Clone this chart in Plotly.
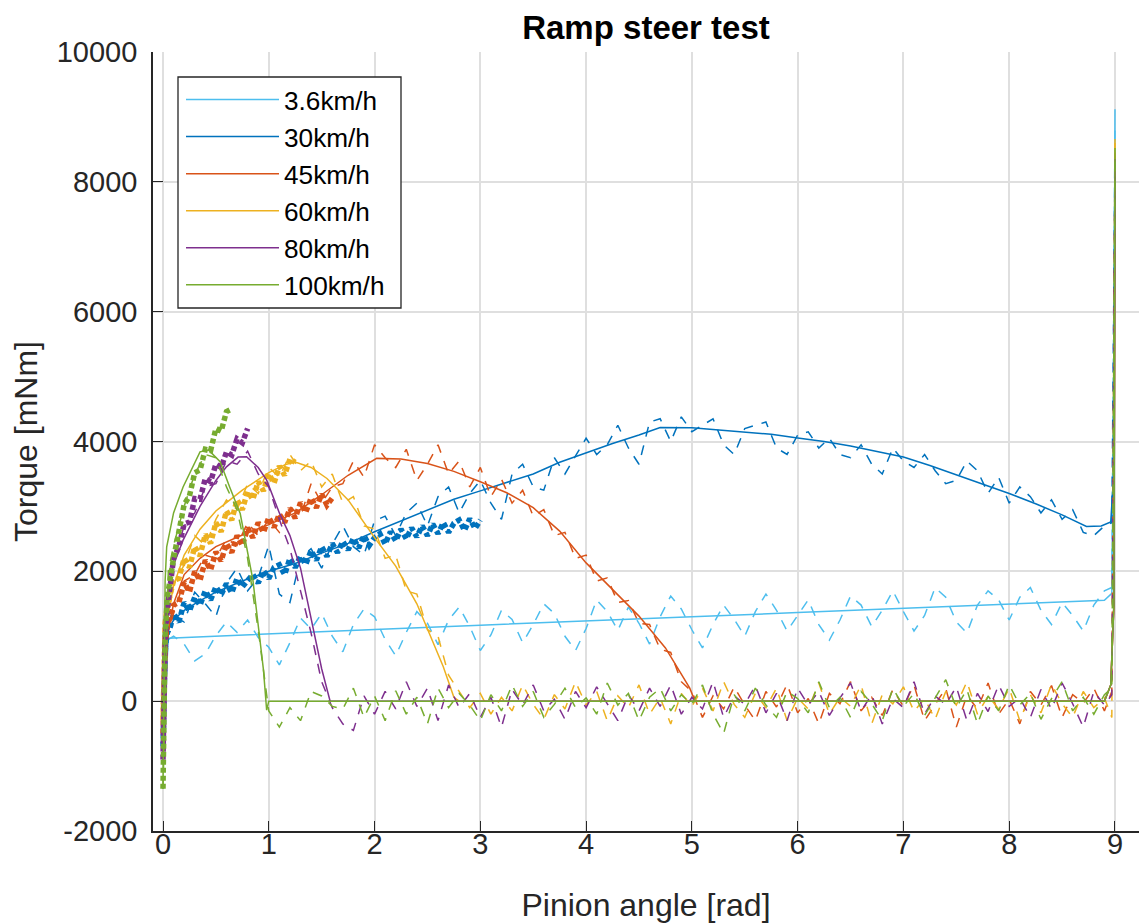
import plotly.graph_objects as go

# ---------------------------------------------------------------- labels
SPEEDS = ["3.6km/h", "30km/h", "45km/h", "60km/h", "80km/h", "100km/h"]
COLORS = ["#4DBEEE", "#0072BD", "#D95319", "#EDB120", "#7E2F8E", "#77AC30"]

X_TICKS = [0, 1, 2, 3, 4, 5, 6, 7, 8, 9]
X_TICK_TEXT = ["0", "1", "2", "3", "4", "5", "6", "7", "8", "9"]
Y_TICKS = [-2000, 0, 2000, 4000, 6000, 8000, 10000]
Y_TICK_TEXT = ["-2000", "0", "2000", "4000", "6000", "8000", "10000"]

# ---------------------------------------------------------------- model (solid)
MODEL_36_X = [0.0, 0.02, 0.05, 1.0, 2.0, 3.0, 4.0, 5.0, 6.0, 7.0, 8.0, 8.8, 8.9, 8.97, 8.99, 9.0]
MODEL_36_Y = [-600, 500, 970, 1040, 1105, 1170, 1240, 1300, 1365, 1430, 1500, 1545, 1555, 1660, 4800, 9120]

MODEL_30_X = [0.0, 0.02, 0.05, 0.1, 0.2, 0.35, 0.5, 0.75, 1.0, 1.25, 1.5, 1.75, 2.0, 2.25, 2.5,
              2.75, 3.0, 3.25, 3.5, 3.75, 4.0, 4.25, 4.5, 4.7, 5.0, 5.25, 5.5, 5.75, 6.0, 6.25,
              6.5, 6.75, 7.0, 7.25, 7.5, 7.75, 8.0, 8.25, 8.5, 8.73, 8.87, 8.96, 8.99, 9.0]
MODEL_30_Y = [-700, 600, 1100, 1250, 1400, 1550, 1680, 1850, 2000, 2120, 2280, 2430, 2610, 2780, 2950,
              3110, 3240, 3370, 3500, 3680, 3830, 3970, 4100, 4215, 4210, 4180, 4150, 4110, 4055, 4000,
              3930, 3850, 3760, 3630, 3490, 3350, 3200, 3040, 2870, 2690, 2700, 2760, 3550, 8400]

MODEL_45_X = [0.0, 0.02, 0.05, 0.1, 0.2, 0.35, 0.5, 0.75, 1.0, 1.25, 1.5, 1.75, 2.02, 2.25, 2.5,
              2.75, 3.0, 3.25, 3.5, 3.75, 4.0, 4.25, 4.5, 4.75, 4.98, 5.03, 8.9, 8.96, 8.99, 9.0]
MODEL_45_Y = [-500, 600, 1100, 1500, 1950, 2200, 2380, 2560, 2720, 2900, 3180, 3480, 3740, 3730, 3660,
              3540, 3380, 3210, 2980, 2620, 2130, 1720, 1310, 820, 200, 0, 0, 250, 1500, 8450]

MODEL_60_X = [0.0, 0.02, 0.05, 0.1, 0.2, 0.35, 0.5, 0.75, 1.0, 1.15, 1.25, 1.4, 1.55, 1.75, 2.0,
              2.2, 2.4, 2.55, 2.65, 2.75, 2.8, 8.9, 8.96, 8.99, 9.0]
MODEL_60_Y = [-300, 800, 1350, 1780, 2250, 2650, 2930, 3250, 3520, 3640, 3685, 3600, 3430, 3100, 2520,
              2080, 1500, 920, 530, 60, 0, 0, 250, 1500, 8660]

MODEL_80_X = [0.0, 0.02, 0.035, 0.1, 0.19, 0.35, 0.5, 0.6, 0.71, 0.79, 0.9, 0.98, 1.1, 1.2, 1.3,
              1.39, 1.5, 1.58, 8.9, 8.96, 8.99, 9.0]
MODEL_80_Y = [-900, 1200, 1600, 2100, 2480, 3000, 3400, 3610, 3760, 3765, 3600, 3405, 2900, 2550, 2050,
              1350, 500, 0, 0, 250, 1500, 8350]

MODEL_100_X = [0.0, 0.01, 0.02, 0.035, 0.1, 0.19, 0.35, 0.43, 0.54, 0.63, 0.73, 0.85, 0.95, 0.98, 1.0,
               8.9, 8.96, 8.99, 9.0]
MODEL_100_Y = [-1350, 1000, 1850, 2378, 2900, 3300, 3840, 3870, 3690, 3300, 2890, 1864, 478, -139, 0,
               0, 250, 1500, 8520]

# ---------------------------------------------------------------- ramp measurement (dashed)
MEAS_ANGLE = [0.0, 0.05,
              0.1, 0.2, 0.3, 0.4, 0.5, 0.6, 0.7, 0.8, 0.9, 1.0,
              1.1, 1.2, 1.3, 1.4, 1.5, 1.6, 1.7, 1.8, 1.9, 2.0,
              2.1, 2.2, 2.3, 2.4, 2.5, 2.6, 2.7, 2.8, 2.9, 3.0,
              3.1, 3.2, 3.3, 3.4, 3.5, 3.6, 3.7, 3.8, 3.9, 4.0,
              4.1, 4.2, 4.3, 4.4, 4.5, 4.6, 4.7, 4.8, 4.9, 5.0,
              5.1, 5.2, 5.3, 5.4, 5.5, 5.6, 5.7, 5.8, 5.9, 6.0,
              6.1, 6.2, 6.3, 6.4, 6.5, 6.6, 6.7, 6.8, 6.9, 7.0,
              7.1, 7.2, 7.3, 7.4, 7.5, 7.6, 7.7, 7.8, 7.9, 8.0,
              8.1, 8.2, 8.3, 8.4, 8.5, 8.6, 8.7, 8.8, 8.9,
              8.97, 9.0]

MEAS_36 = [-500, 950,
           1000, 880, 620, 730, 1010, 1220, 1060, 1250, 980, 830,
           560, 900, 1280, 1110, 1350, 1000, 760, 1180, 1420, 1300,
           950, 700, 1060, 1380, 1200, 870, 1250, 1450, 1150, 780,
           1020, 1400, 1260, 900, 1180, 1500, 1350, 1000, 780, 1120,
           1560, 1380, 1090, 1450, 1200, 880, 1300, 1620, 1420, 1100,
           820, 1180, 1480, 1260, 1000, 1380, 1650, 1400, 1080, 1320,
           1560, 1180, 940, 1250, 1620, 1480, 1150, 1400, 1700, 1380,
           1080, 1320, 1750, 1600, 1220, 1050, 1480, 1700, 1560, 1250,
           1600, 1750, 1400, 1180, 1520, 1320, 1080, 1480, 1700,
           1750, 8900]

MEAS_30 = [-700, 1100,
           1300, 1220, 1680, 1500, 1300, 1820, 2050, 1700, 1900, 2400,
           1650, 1520, 2200, 2350, 2050, 2420, 2700, 2380, 2250, 2780,
           2850, 2550, 2900, 3050, 2700, 3150, 3300, 2900, 3200, 3400,
           3050, 2800, 3500, 3650, 3300, 3250, 3750, 3500, 3780, 4050,
           3800, 3950, 4250, 3900, 3650, 4300, 4350, 4000, 4380, 4150,
           4250, 4350, 3950, 3800, 4200, 4250, 4300, 3900, 3800, 4100,
           4150, 3900, 4050, 3800, 3750, 3950, 3650, 3500, 3900, 3700,
           3600, 3800, 3550, 3350, 3400, 3700, 3550, 3200, 3450, 3050,
           3300, 3150, 2900, 3100, 2800, 2950, 2600, 2550, 2700,
           2750, 8300]

MEAS_45 = [-500, 1100,
           1350, 1850, 1950, 2250, 2200, 2500, 2400, 2750, 2550, 2800,
           2600, 3000, 2850, 3350, 3050, 3300, 3350, 3700, 3450, 3950,
           3750, 3600, 3880, 3400, 3650, 3950, 3500, 3700, 3300, 3600,
           3150, 3420, 3050, 3250, 2850, 2950, 2550, 2600, 2200, 2250,
           1850, 1900, 1520, 1550, 1200, 1180, 800, 750, 300, 150,
           -250, 80, -120, 220, -60, -300, 150, -90, 260, -180,
           40, -350, 120, -40, 300, -150, 60, -220, 180, -80,
           250, -300, -50, 200, -400, 90, -120, 280, -200, 30,
           -350, 150, -60, 240, -250, 100, -30, 200, -150,
           150, 8400]

MEAS_60 = [-300, 1300,
           1800, 2100, 2550, 2400, 2800, 3100, 2950, 3350, 3200, 3600,
           3450, 3800, 3550, 3700, 3300, 3500, 3050, 3150, 2700, 2650,
           2200, 2250, 1700, 1650, 1100, 1000, 400, 150, -100, 120,
           -200, 60, -150, 250, -50, -280, 100, -120, 300, -60,
           150, -300, 80, -100, 250, -200, 50, -350, 120, -80,
           200, -150, 300, -50, -250, 120, -100, 200, -300, 50,
           -120, 280, -200, 60, -80, 250, -350, 100, -40, 220,
           -160, 40, -280, 150, -60, 300, -200, 80, -120, 200,
           -300, 100, -180, 260, -40, -250, 150, -100, 50,
           -250, 8600]

MEAS_80 = [-900, 1700,
           2150, 2700, 2900, 3300, 3350, 3700, 3650, 3850, 3500, 3300,
           2800, 2350, 1700, 1050, 300, -100, -350, -450, 80, -200,
           150, -120, 300, -80, 200, -300, 250, -100, 120, -250,
           60, -400, 180, -60, 250, -150, 30, -280, 150, -100,
           220, -50, -300, 100, -150, 200, -80, 250, -200, 60,
           -120, 300, -250, 80, -50, 240, -180, 120, -300, 200,
           -60, 150, -220, 50, 280, -150, 100, -350, 40, -100,
           300, -200, 80, -50, 220, -300, 120, -160, 250, -80,
           50, -250, 180, -120, 280, -40, -400, 150, -60,
           100, 8300]

MEAS_100 = [-1350, 2000,
            2400, 3000, 3500, 3800, 3750, 3300, 2950, 2200, 1100, -150,
            -400, -100, -300, 150, 80, -80, -120, 200, -250, 80,
            -300, 160, -200, 60, -350, 200, -100, 120, -60, -300,
            100, -150, 250, -80, 150, -250, -50, 200, -100, 50,
            -200, 280, -60, 120, -300, 60, 200, -150, 100, -50,
            250, -200, -500, 100, -150, 200, -60, -250, 150, 40,
            -180, 300, -100, 60, -250, 150, -40, -300, 200, -80,
            120, -220, 50, 330, -100, 180, -350, 80, -150, 250,
            -60, 120, -280, 40, 300, -150, 60, -200, 100,
            200, 8400]

# ---------------------------------------------------------------- quasi-static measurement (dotted)
DOT_ANGLE = [0.0, 0.005, 0.01, 0.02, 0.04, 0.07,
             0.1, 0.15, 0.2, 0.25, 0.3, 0.35, 0.4, 0.45, 0.5, 0.55, 0.6, 0.65, 0.7, 0.75,
             0.8, 0.85, 0.9, 0.95, 1.0, 1.05, 1.1, 1.15, 1.2, 1.25, 1.3, 1.35, 1.4, 1.45,
             1.5, 1.55, 1.6, 1.65, 1.7, 1.75, 1.8, 1.85, 1.9, 1.95, 2.0, 2.05, 2.1, 2.15,
             2.2, 2.25, 2.3, 2.35, 2.4, 2.45, 2.5, 2.55, 2.6, 2.65, 2.7, 2.75, 2.8, 2.85,
             2.9, 2.95, 3.0]

DOT_30 = [-700, -300, 300, 800, 1050, 1150,
          1350, 1220, 1520, 1390, 1600, 1480, 1700, 1560, 1760, 1640, 1810, 1670, 1890, 1760,
          1860, 1950, 1820, 2010, 1890, 2060, 2100, 1950, 2200, 2060, 2230, 2110, 2320, 2170,
          2380, 2230, 2430, 2290, 2460, 2330, 2510, 2360, 2550, 2400, 2520, 2580, 2420, 2610,
          2470, 2650, 2500, 2670, 2530, 2700, 2550, 2730, 2580, 2750, 2600, 2740, 2790, 2630,
          2810, 2660, 2790]

DOT_45 = [-500, 0, 500, 900, 1150, 1300,
          1480, 1520, 1830, 1680, 2000, 1860, 2170, 2020, 2300, 2160, 2430, 2290, 2550, 2400,
          2670, 2520, 2750, 2600, 2830, 2680, 2880, 2750, 2970, 2820, 3060, 2910, 3130, 2980,
          3190, 3020, 3130]

DOT_60 = [-300, 300, 800, 1200, 1450, 1650,
          1860, 1890, 2200, 2060, 2380, 2240, 2570, 2430, 2750, 2610, 2930, 2790, 3100, 2950,
          3230, 3110, 3380, 3240, 3500, 3360, 3620, 3480, 3730, 3680]

DOT_80 = [-900, -300, 300, 900, 1400, 1750,
          2200, 2380, 2730, 2760, 3120, 3110, 3430, 3380, 3650, 3600, 3840, 3790, 4040, 3980,
          4200]

DOT_100 = [-1350, -600, 200, 1000, 1600, 1950,
           2200, 2610, 3030, 3160, 3520, 3560, 3880, 3860, 4200, 4160, 4460, 4500]

MODEL_X = [MODEL_36_X, MODEL_30_X, MODEL_45_X, MODEL_60_X, MODEL_80_X, MODEL_100_X]
MODEL_Y = [MODEL_36_Y, MODEL_30_Y, MODEL_45_Y, MODEL_60_Y, MODEL_80_Y, MODEL_100_Y]
MEAS_Y = [MEAS_36, MEAS_30, MEAS_45, MEAS_60, MEAS_80, MEAS_100]
DOT_Y = [None, DOT_30, DOT_45, DOT_60, DOT_80, DOT_100]

for xs, ys in zip(MODEL_X, MODEL_Y):
    assert len(xs) == len(ys), (len(xs), len(ys))
for ys in MEAS_Y:
    assert len(ys) == len(MEAS_ANGLE), len(ys)

INK = "#262626"
FONT = "Liberation Sans, Arial, Helvetica, sans-serif"

# plot-area geometry in pixels (used to place the legend frame)
PLOT_LEFT, PLOT_TOP, PLOT_W, PLOT_H = 153, 52, 986, 779


def px_x(px):
    return (px - PLOT_LEFT) / PLOT_W


def px_y(py):
    return 1 - (py - PLOT_TOP) / PLOT_H


fig = go.Figure()
for i, label in enumerate(SPEEDS):
    color = COLORS[i]
    fig.add_trace(go.Scatter(
        x=MODEL_X[i], y=MODEL_Y[i], mode="lines", name=label,
        line=dict(color=color, width=1.5),
    ))
    fig.add_trace(go.Scatter(
        x=MEAS_ANGLE, y=MEAS_Y[i], mode="lines", showlegend=False,
        line=dict(color=color, width=1.5, dash="10px,9px"),
    ))
    if DOT_Y[i] is not None:
        fig.add_trace(go.Scatter(
            x=DOT_ANGLE[:len(DOT_Y[i])], y=DOT_Y[i], mode="lines", showlegend=False,
            line=dict(color=color, width=5.5, dash="5px,3px"),
        ))

axis_common = dict(
    showline=True, linecolor=INK, linewidth=1.6,
    showgrid=True, gridcolor="#dfdfdf", gridwidth=1.5,
    zeroline=False,
    ticks="inside", ticklen=10, tickwidth=1.3, tickcolor=INK,
    tickfont=dict(family=FONT, size=29, color=INK),
    automargin=False,
)

fig.update_layout(
    width=1139, height=923,
    margin=dict(l=PLOT_LEFT, r=0, t=PLOT_TOP, b=923 - PLOT_TOP - PLOT_H),
    paper_bgcolor="white", plot_bgcolor="white",
    font=dict(family=FONT, color=INK),
    title=dict(
        text="<b>Ramp steer test</b>",
        x=0.5, xref="paper", xanchor="center",
        y=1 - 27 / 923, yref="container", yanchor="middle",
        font=dict(family=FONT, size=33, color="#000000"),
    ),
    xaxis=dict(
        range=[-0.0945, 9.227],
        tickvals=X_TICKS, ticktext=X_TICK_TEXT,
        ticklabelstandoff=-14,
        title=dict(text="Pinion angle [rad]", standoff=46,
                   font=dict(family=FONT, size=32, color=INK)),
        **axis_common,
    ),
    yaxis=dict(
        range=[-2000, 10000],
        tickvals=Y_TICKS, ticktext=Y_TICK_TEXT,
        ticklabelstandoff=8,
        title=dict(text="Torque [mNm]", standoff=10,
                   font=dict(family=FONT, size=32, color=INK)),
        **axis_common,
    ),
    legend=dict(
        x=px_x(181), y=px_y(76),
        xanchor="left", yanchor="top",
        bgcolor="rgba(0,0,0,0)", borderwidth=0,
        font=dict(family=FONT, size=26.2, color="#000000"),
        itemwidth=93, tracegroupgap=0,
    ),
    shapes=[dict(
        type="rect", xref="paper", yref="paper", layer="above",
        x0=px_x(178), x1=px_x(401), y0=px_y(308), y1=px_y(77),
        line=dict(color=INK, width=1.3), fillcolor="white",
    )],
    showlegend=True,
)

fig.write_html("out.html")
